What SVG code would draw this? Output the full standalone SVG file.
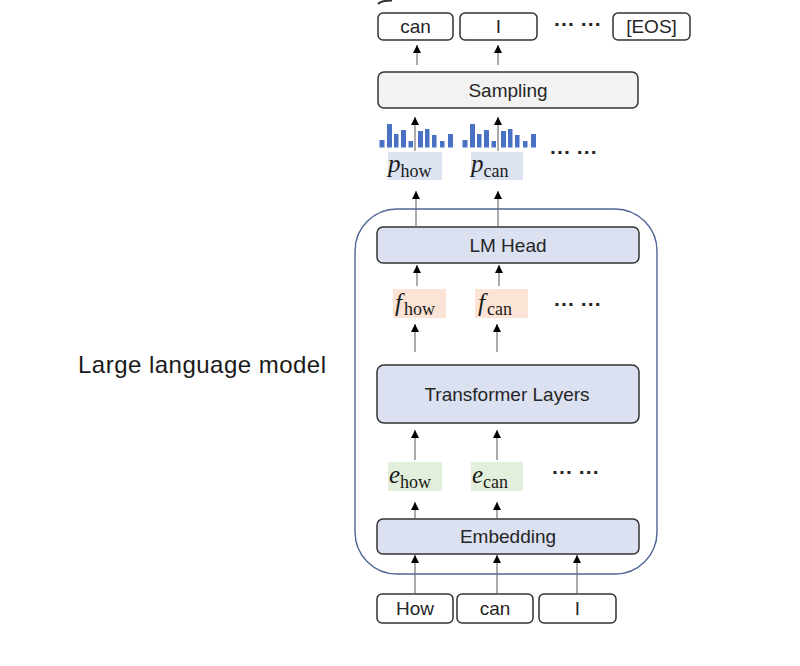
<svg xmlns="http://www.w3.org/2000/svg" width="800" height="666" viewBox="0 0 800 666">
<defs>
<style>
.box{fill:#ffffff;stroke:#333;stroke-width:1.5}
.gray{fill:#f2f2f2;stroke:#333;stroke-width:1.5}
.blue{fill:#dbe1f0;stroke:#333;stroke-width:1.5}
.lbl{font-family:"Liberation Sans",Arial,sans-serif;font-size:19px;fill:#262626;text-anchor:middle}
.dots{font-family:"Liberation Sans",Arial,sans-serif;font-size:21px;fill:#262626;font-weight:bold}
.m{font-family:"Liberation Serif","Times New Roman",serif;fill:#1a1a1a}
.mi{font-style:italic;font-size:25px}
.ms{font-size:18px}
.cn line{stroke:#666;stroke-width:1.1;marker-end:url(#ah)}
.bar{fill:#4a72c4}
</style>
<marker id="ah" viewBox="0 0 10 10" refX="10" refY="5" markerWidth="9" markerHeight="8" markerUnits="userSpaceOnUse" orient="auto">
<path d="M0,0 L10,5 L0,10 z" fill="#000"/>
</marker>
<g id="hist">
<rect class="bar" x="379.5" y="140" width="5" height="7.5"/>
<rect class="bar" x="387" y="124" width="5" height="23.5"/>
<rect class="bar" x="394" y="134" width="4.5" height="13.5"/>
<rect class="bar" x="401" y="130" width="5" height="17.5"/>
<rect class="bar" x="408.5" y="141" width="4.5" height="6.5"/>
<rect class="bar" x="418" y="131" width="5" height="16.5"/>
<rect class="bar" x="425" y="129" width="4.5" height="18.5"/>
<rect class="bar" x="432" y="135" width="4.5" height="12.5"/>
<rect class="bar" x="440" y="141" width="4.5" height="6.5"/>
<rect class="bar" x="448" y="134" width="5" height="13.5"/>
</g>
</defs>
<rect width="800" height="666" fill="#ffffff"/>

<path d="M378,4 Q381,0.5 392,0.5" fill="none" stroke="#333" stroke-width="2"/>

<g id="llm-container">
<rect x="355" y="209" width="302" height="365" rx="42" fill="none" stroke="#4f6597" stroke-width="1.4"/>
<text x="78" y="373" font-family="Liberation Sans,Arial,sans-serif" font-size="24" fill="#1a1a1a" textLength="248">Large language model</text>
</g>

<g id="out-can"><rect class="box" x="378" y="13" width="75" height="27" rx="5"/><text class="lbl" x="415.5" y="33">can</text></g>
<g id="out-I"><rect class="box" x="460" y="13" width="77" height="27" rx="5"/><text class="lbl" x="498.5" y="33">I</text></g>
<g id="out-dots"><text class="dots" x="554" y="31">··· ···</text></g>
<g id="out-eos"><rect class="box" x="613" y="13" width="77" height="27" rx="5"/><text class="lbl" x="651.5" y="33">[EOS]</text></g>

<g id="sampling"><rect class="gray" x="378" y="72" width="260" height="36" rx="6"/><text class="lbl" x="508" y="97">Sampling</text></g>

<g id="p-how">
<rect x="388" y="152" width="54" height="28" fill="#dde3f1"/>
<use href="#hist"/>
<text class="m" x="388" y="172"><tspan class="mi">p</tspan><tspan class="ms" dy="5">how</tspan></text>
</g>
<g id="p-can">
<rect x="471" y="152" width="52" height="28" fill="#dde3f1"/>
<use href="#hist" transform="translate(83,0)"/>
<text class="m" x="471" y="172"><tspan class="mi">p</tspan><tspan class="ms" dy="5">can</tspan></text>
</g>
<g id="p-dots"><text class="dots" x="550" y="159">··· ···</text></g>

<g id="lm-head"><rect class="blue" x="377" y="227" width="262" height="36" rx="6"/><text class="lbl" x="508" y="252">LM Head</text></g>

<g id="f-how"><rect x="393" y="289" width="53" height="29" fill="#fbe4d5"/>
<text class="m" x="395" y="311"><tspan class="mi">f</tspan><tspan class="ms" dx="2" dy="4">how</tspan></text></g>
<g id="f-can"><rect x="475" y="289" width="53" height="29" fill="#fbe4d5"/>
<text class="m" x="478" y="311"><tspan class="mi">f</tspan><tspan class="ms" dx="2" dy="4">can</tspan></text></g>
<g id="f-dots"><text class="dots" x="554" y="311">··· ···</text></g>

<g id="transformer"><rect class="blue" x="377" y="365" width="262" height="58" rx="7"/><text class="lbl" x="507" y="401">Transformer Layers</text></g>

<g id="e-how"><rect x="388" y="462" width="54" height="29" fill="#e2efda"/>
<text class="m" x="389" y="483"><tspan class="mi">e</tspan><tspan class="ms" dy="5">how</tspan></text></g>
<g id="e-can"><rect x="471" y="462" width="52" height="29" fill="#e2efda"/>
<text class="m" x="472" y="483"><tspan class="mi">e</tspan><tspan class="ms" dy="5">can</tspan></text></g>
<g id="e-dots"><text class="dots" x="552" y="479">··· ···</text></g>

<g id="embedding"><rect class="blue" x="377" y="519" width="262" height="35" rx="6"/><text class="lbl" x="508" y="543">Embedding</text></g>

<g id="in-how"><rect class="box" x="377" y="594" width="76" height="29" rx="5"/><text class="lbl" x="415" y="615">How</text></g>
<g id="in-can"><rect class="box" x="457" y="594" width="76" height="29" rx="5"/><text class="lbl" x="495" y="615">can</text></g>
<g id="in-I"><rect class="box" x="539" y="594" width="77" height="29" rx="5"/><text class="lbl" x="577.5" y="615">I</text></g>

<g id="connectors" class="cn">
<line x1="417" y1="65" x2="417" y2="45"/>
<line x1="498" y1="65" x2="498" y2="45"/>
<line x1="415" y1="151" x2="415" y2="117"/>
<line x1="498" y1="151" x2="498" y2="117"/>
<line x1="416" y1="227" x2="416" y2="191"/>
<line x1="498" y1="227" x2="498" y2="191"/>
<line x1="417" y1="286" x2="417" y2="265"/>
<line x1="499" y1="286" x2="499" y2="265"/>
<line x1="415" y1="352" x2="415" y2="324"/>
<line x1="497" y1="352" x2="497" y2="324"/>
<line x1="415" y1="460" x2="415" y2="430"/>
<line x1="497" y1="460" x2="497" y2="430"/>
<line x1="415" y1="518" x2="415" y2="502"/>
<line x1="497" y1="518" x2="497" y2="502"/>
<line x1="415" y1="593" x2="415" y2="555"/>
<line x1="497" y1="593" x2="497" y2="555"/>
<line x1="577" y1="593" x2="577" y2="555"/>
</g>
</svg>
